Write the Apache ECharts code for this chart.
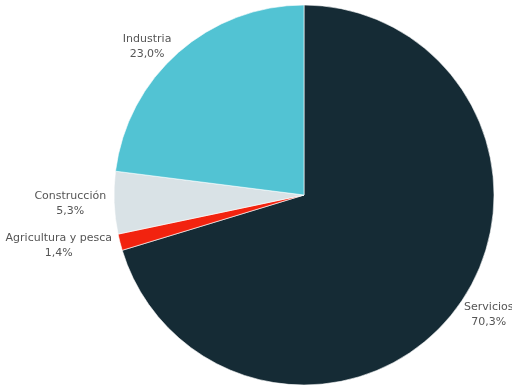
<!DOCTYPE html>
<html>
<head>
<meta charset="utf-8">
<script src="https://cdn.jsdelivr.net/npm/echarts@6/dist/echarts.min.js"></script>
<style>html,body{margin:0;padding:0;background:#fff}#c{width:512px;height:385px}</style>
</head>
<body>
<div id="c"></div>
<script>
const categories = ['Servicios', 'Agricultura y pesca', 'Construcción', 'Industria'];
const values = [70.3, 1.4, 5.3, 23.0];
const colors = ['#152b35', '#f2230f', '#d9e2e6', '#52c3d3'];

const CX = 304, CY = 195;
const chart = echarts.init(document.getElementById('c'), null, {renderer: 'canvas'});
const fmt = v => v.toFixed(1).replace('.', ',') + '%';
chart.setOption({
  animation: false,
  series: [{
    type: 'pie',
    center: [CX, CY],
    radius: 190,
    startAngle: 90,
    clockwise: true,
    avoidLabelOverlap: false,
    data: categories.map((c, i) => ({name: c, value: values[i], itemStyle: {color: colors[i]}})),
    itemStyle: {borderColor: '#fff', borderWidth: 0.6},
    label: {
      show: true,
      position: 'outside',
      formatter: p => p.name + '\n' + fmt(p.value),
      fontFamily: 'DejaVu Sans',
      fontSize: 11,
      lineHeight: 15,
      color: '#555',
      overflow: 'none'
    },
    labelLine: {show: false, length: 3, length2: 0},
    labelLayout: function (params) {
      const r = params.labelRect;
      const mx = r.x + r.width / 2, my = r.y + r.height / 2;
      const d = Math.hypot(mx - CX, my - CY) || 1;
      const s = (my - CY) / d;
      return {x: mx, y: my + 1 + 7 * s, align: 'center', verticalAlign: 'middle'};
    }
  }]
});
</script>
</body>
</html>
